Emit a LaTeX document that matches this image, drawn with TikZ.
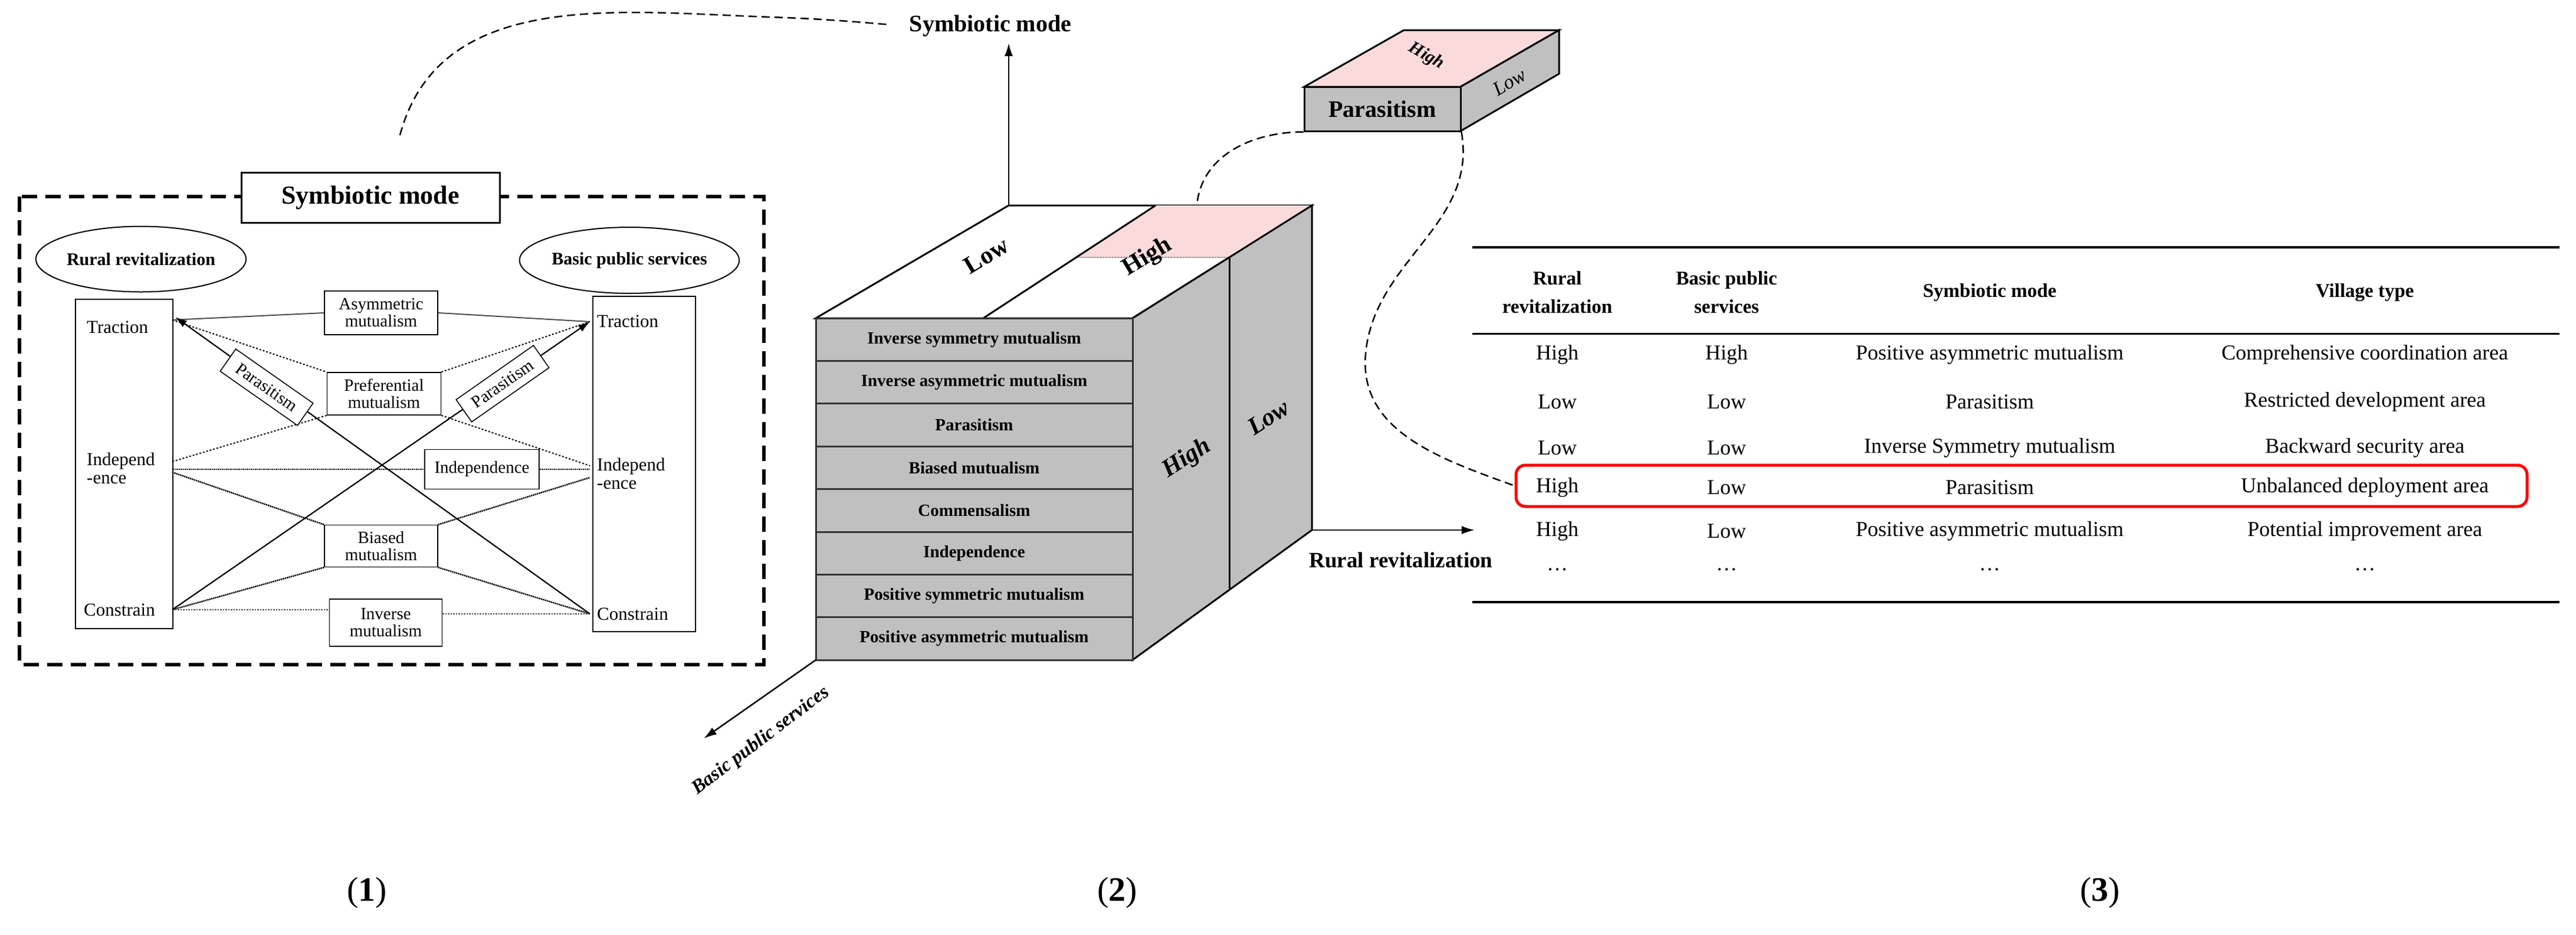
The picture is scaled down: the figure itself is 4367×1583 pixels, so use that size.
\documentclass[tikz,border=0pt]{standalone}
\usepackage{fontspec}
\setmainfont{Liberation Serif}
\usetikzlibrary{arrows.meta,shapes.geometric}
\definecolor{cubegray}{RGB}{192,192,192}
\definecolor{pinktop}{RGB}{250,218,218}
\tikzset{
  fs/.style={font=\fontsize{#1}{#1}\selectfont},
  oval/.style={draw,ellipse,line width=2pt,inner sep=0pt,font=\bfseries\fontsize{30}{34}\selectfont},
  col/.style={draw,line width=2pt,minimum width=165pt},
  word/.style={anchor=west,align=left,inner sep=0pt,fs=31},
  rel/.style={draw,fill=white,line width=1.6pt,align=center,inner sep=3pt,fs=29},
  row/.style={draw=black!80,line width=3pt,fill=cubegray,minimum width=537pt,minimum height=72.4pt,
              font=\bfseries\fontsize{29}{32}\selectfont},
  face/.style={font=\bfseries\itshape\fontsize{42}{44}\selectfont},
  cell/.style={fs=36},
  head/.style={font=\bfseries\fontsize{33}{36}\selectfont,align=center},
  panel/.style={fs=58},
  link/.style={dashed,line width=2.5pt,dash pattern=on 14pt off 8pt}
}
\begin{document}
\begin{tikzpicture}[x=1pt,y=-1pt]
  \useasboundingbox (0,0) rectangle (4367,1583);
  % ---------- (1) symbiotic relation scheme
  \draw[line width=6pt,dash pattern=on 26pt off 14pt] (33,333) rectangle (1295,1126);
  \node[draw,fill=white,line width=3pt,minimum width=438pt,minimum height=85pt,
        font=\bfseries\fontsize{44}{48}\selectfont] (title) at (628,335) {Symbiotic mode};
  \node[oval,minimum width=326pt,minimum height=111pt] (rr) at (239,439) {Rural revitalization};
  \node[oval,minimum width=366pt,minimum height=112pt] (bps) at (1067,441) {Basic public services};
  \node[col,minimum height=558pt] (lcol) at (210,786) {};
  \node[col,minimum width=174pt,minimum height=568pt] (rcol) at (1092,786) {};
  \node[word] (lTr) at (147,554) {Traction};
  \node[word] (lIn) at (147,793) {Independ\\-ence};
  \node[word] (lCo) at (142,1033) {Constrain};
  \node[word] (rTr) at (1012,544) {Traction};
  \node[word] (rIn) at (1012,802) {Independ\\-ence};
  \node[word] (rCo) at (1012,1040) {Constrain};
  \coordinate (lT) at (292,542);  \coordinate (rT) at (1000,545);
  \coordinate (lI1) at (292,782); \coordinate (rI1) at (1000,789);
  \coordinate (lI) at (292,795);  \coordinate (rI) at (1000,795);
  \coordinate (lI2) at (292,800); \coordinate (rI2) at (1000,809);
  \coordinate (lC) at (292,1033); \coordinate (rC) at (1000,1040);
  \node[rel,minimum width=192pt,minimum height=74pt] (asym) at (646,530) {Asymmetric\\mutualism};
  \node[rel,minimum width=193pt,minimum height=72pt] (pref) at (651,667) {Preferential\\mutualism};
  \node[rel,minimum width=194pt,minimum height=67pt] (indep) at (817,795) {Independence};
  \node[rel,minimum width=192pt,minimum height=71pt] (bias) at (646,925) {Biased\\mutualism};
  \node[rel,minimum width=191pt,minimum height=80pt] (inv) at (654,1055) {Inverse\\mutualism};
  \draw[line width=2pt,gray!60!black] (lT) -- (asym.west) (asym.east) -- (rT);
  \draw[line width=2pt,dashed] (lT) -- (pref.north west) (pref.north east) -- (rT)
        (pref.south west) -- (lI1) (pref.south east) -- (rI1);
  \draw[line width=2.5pt,densely dotted] (lI) -- (indep.west) (indep.east) -- (rI);
  \draw[line width=2.5pt,densely dotted] (lI2) -- (bias.north west) (bias.north east) -- (rI2)
        (bias.south west) -- (lC) (bias.south east) -- (rC);
  \draw[line width=2pt,dash dot,gray!60!black] (lC) -- (lC -| inv.west) (rC -| inv.east) -- (rC);
  \draw[line width=2.2pt,-{Latex[length=20pt,width=13pt]}] (lC) -- (rT);
  \draw[line width=2.2pt,-{Latex[length=20pt,width=13pt]}] (rC) -- ([xshift=5pt,yshift=5pt]lT);
  \node[rel,rotate=-35,minimum width=160pt,minimum height=46pt] (paraL) at (452,656) {Parasitism};
  \node[rel,rotate=35,minimum width=160pt,minimum height=46pt] (paraR) at (852,650) {Parasitism};
  \draw[link] (title.north) ++(50,-62) coordinate (t0) to[out=75,in=178] (1307,29)
        to[out=-2,in=175] (1510,42);
  % ---------- (2) cube
  \coordinate (F1) at (1383,539); \coordinate (F2) at (1920,539);
  \coordinate (F3) at (1920,1118); \coordinate (F4) at (1383,1118);
  \coordinate (B1) at (1710,348); \coordinate (B2) at (2224,348); \coordinate (B3) at (2224,898);
  \coordinate (S1) at (1667,539); \coordinate (S2) at (1959,348);
  \coordinate (P1) at (1825,436); \coordinate (P2) at (2084,436); \coordinate (P3) at (2084,999);
  \draw[line width=3pt,fill=white] (F1) -- (B1) -- (B2) -- (F2) -- cycle;
  \fill[pinktop] (S2) -- (B2) -- (P2) -- (P1) -- cycle;
  \draw[line width=1.5pt,densely dotted,gray] (P1) -- (P2);
  \draw[line width=3pt] (S1) -- (S2);
  \draw[line width=3pt,fill=cubegray] (F2) -- (B2) -- (B3) -- (F3) -- cycle;
  \draw[line width=3pt] (P2) -- (P3);
  \foreach \t [count=\i from 0] in {Inverse symmetry mutualism,Inverse asymmetric mutualism,
      Parasitism,Biased mutualism,Commensalism,Independence,
      Positive symmetric mutualism,Positive asymmetric mutualism}
    { \node[row] (r\i) at (1651.5,575.2+\i*72.4) {\t}; }
  \node[face,rotate=31,font=\bfseries\fontsize{42}{44}\selectfont] (lowT) at (1672,433) {Low};
  \node[face,rotate=31,font=\bfseries\fontsize{42}{44}\selectfont] (highT) at (1945,436) {High};
  \node[face,rotate=33] (highR) at (2012,777) {High};
  \node[face,rotate=33] (lowR) at (2150,707) {Low};
  \node[font=\bfseries\fontsize{40}{44}\selectfont] (axSym) at (1679,44) {Symbiotic mode};
  \node[font=\bfseries\fontsize{37}{40}\selectfont] (axRR) at (2375,949) {Rural revitalization};
  \node[font=\bfseries\itshape\fontsize{33}{36}\selectfont,rotate=37] (axBPS) at (1290,1255) {Basic public services};
  \coordinate (aSym) at (1710,73); \coordinate (aRR) at (2500,898); \coordinate (aBPS) at (1193,1251);
  \draw[line width=2.5pt,-{Latex[length=22pt,width=14pt]}] (B1) -- (aSym);
  \draw[line width=2.5pt,-{Latex[length=22pt,width=14pt]}] (B3) -- (aRR);
  \draw[line width=2.5pt,-{Latex[length=22pt,width=14pt]}] (F4) -- (aBPS);
  % small block
  \fill[pinktop,draw=black,line width=3pt] (2211,147) -- (2380,51) -- (2643,51) -- (2476,147) -- cycle;
  \draw[line width=3pt,fill=cubegray] (2476,147) -- (2643,51) -- (2643,125) -- (2476,222) -- cycle;
  \node[draw,line width=3pt,fill=cubegray,minimum width=265pt,minimum height=75pt,
        font=\bfseries\fontsize{40}{44}\selectfont] (para) at (2343.5,184.5) {Parasitism};
  \node[face,rotate=-30,font=\bfseries\itshape\fontsize{30}{32}\selectfont] (highS) at (2418,95) {High};
  \node[face,rotate=31,font=\itshape\fontsize{34}{36}\selectfont] (lowS) at (2559,139) {Low};
  % ---------- (3) table
  \draw[line width=4pt] (2496,419) -- (4339,419);
  \draw[line width=3pt] (2496,565) -- (4339,565);
  \draw[line width=4pt] (2496,1020) -- (4339,1020);
  \node[head] (h1) at (2640,495) {Rural\\[12pt]revitalization};
  \node[head] (h2) at (2927,495) {Basic public\\[12pt]services};
  \node[head] (h3) at (3373,496) {Symbiotic mode};
  \node[head] (h4) at (4009,496) {Village type};
  \foreach \a/\b/\c/\d/\yy [count=\i] in {
      High/High/Positive asymmetric mutualism/Comprehensive coordination area/601,
      Low/Low/Parasitism/Restricted development area/681,
      Low/Low/Inverse Symmetry mutualism/Backward security area/759,
      High/Low/Parasitism/Unbalanced deployment area/826,
      High/Low/Positive asymmetric mutualism/Potential improvement area/900,
      \ldots/\ldots/\ldots/\ldots/965}
    { \node[cell] (c\i a) at (2640,\yy) {\a};
      \node[cell] (c\i b) at (2927,\yy) {\b};
      \node[cell] (c\i c) at (3373,\yy) {\c};
      \node[cell] (c\i d) at (4009,\yy) {\d}; }
  \node[draw=red,line width=5pt,rounded corners=16pt,minimum width=1714pt,minimum height=70pt] (sel) at (3427,823) {};
  % dashed links
  \draw[link] (para.south west) to[out=180,in=85] (2029,348);
  \draw[link] (para.south east) to[out=-80,in=85] (2315,600) to[out=-95,in=160] (sel.west);
  % ---------- panel labels
  \node[panel] (p1) at (622,1513) {(\textbf{1})};
  \node[panel] (p2) at (1894,1513) {(\textbf{2})};
  \node[panel] (p3) at (3560,1513) {(\textbf{3})};
\end{tikzpicture}
\end{document}
